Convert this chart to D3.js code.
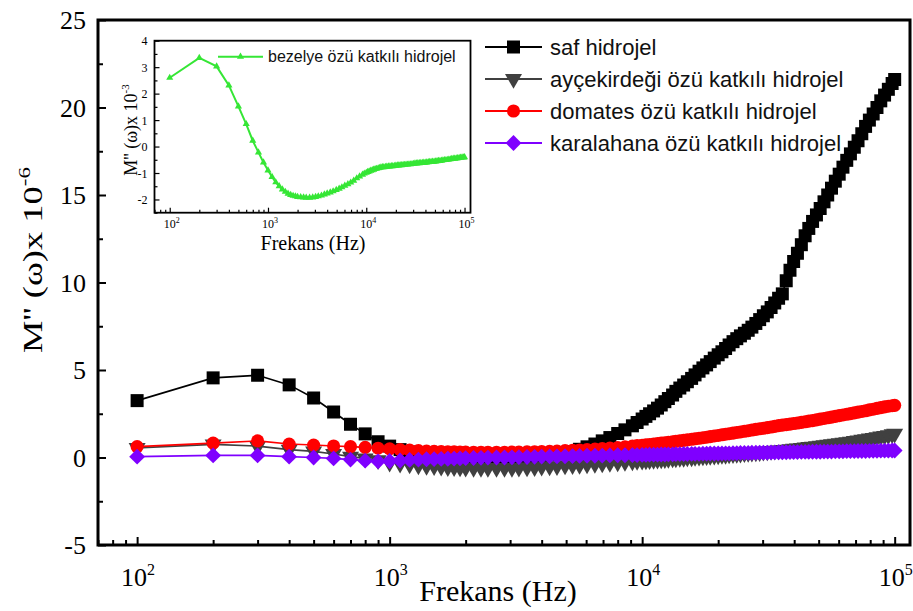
<!DOCTYPE html>
<html>
<head>
<meta charset="utf-8">
<script src="https://cdn.jsdelivr.net/npm/d3@7"></script>
<style>
  body { margin: 0; background: #fff; }
  svg { display: block; }
  .serif { font-family: "Liberation Serif", "Times New Roman", serif; }
  .sans { font-family: "Liberation Sans", Arial, sans-serif; }
</style>
</head>
<body>
<svg id="chart" width="913" height="611"></svg>
<script>
// Frequencies (Hz) at which M''(ω) is plotted
const freqs = [100, 200, 300, 400, 500, 600, 700, 800, 900, 1000,
  1100, 1200, 1300, 1400, 1500, 1600, 1700, 1800, 1900, 2000,
  2150, 2300, 2450, 2650, 2850, 3050, 3250, 3500, 3750, 4000,
  4300, 4600, 4950, 5300, 5650, 6050, 6500, 6950, 7450, 8000,
  8550, 9150, 9550,
  10000, 10350, 10700, 11100, 11500, 11900, 12300, 12700, 13200, 13600,
  14100, 14600, 15100, 15700, 16200, 16800, 17400, 18000, 18600, 19300,
  20000, 20700, 21400, 22100, 22900, 23700, 24500, 25400, 26300, 27200,
  28200, 29200, 30200, 31300, 32400, 33500, 34700, 35900, 37200, 38500,
  39800, 41200, 42700, 44200, 45700, 47300, 49000, 50700, 52500, 54300,
  56200, 58200, 60300, 62400, 64600, 66800, 69200, 71600, 74100, 76700,
  79400, 82200, 85100, 88100, 91200, 94400, 97700, 100000];

// M''(ω) x 10^-6
const safHidrojel = [3.25, 4.55, 4.7, 4.15, 3.4, 2.6, 1.9, 1.35, 0.9, 0.65,
  0.45, 0.32, 0.22, 0.14, 0.09, 0.05, 0.02, 0.0, -0.02, -0.04,
  -0.05, -0.05, -0.05, -0.04, -0.02, 0.0, 0.03, 0.06, 0.09, 0.12,
  0.16, 0.2, 0.25, 0.34, 0.47, 0.61, 0.77, 0.95, 1.14, 1.37,
  1.58, 1.81, 2.0,
  2.2, 2.35, 2.5, 2.66, 2.82, 3.0, 3.19, 3.37, 3.57, 3.78,
  3.97, 4.14, 4.33, 4.52, 4.72, 4.93, 5.12, 5.29, 5.48, 5.68,
  5.87, 6.04, 6.23, 6.43, 6.62, 6.79, 6.95, 7.1, 7.27, 7.45,
  7.66, 7.88, 8.1, 8.32, 8.57, 8.83, 9.1, 9.35, 10.1, 10.7,
  11.2, 11.67, 12.16, 12.67, 13.09, 13.49, 13.86, 14.23, 14.61, 15.0,
  15.39, 15.79, 16.19, 16.59, 16.98, 17.35, 17.73, 18.1, 18.5, 18.92,
  19.28, 19.63, 20.0, 20.38, 20.71, 21.04, 21.37, 21.6];

const aycekirdegi = [0.55, 0.75, 0.65, 0.45, 0.35, 0.2, 0.05, -0.05, -0.15, -0.3,
  -0.35, -0.4, -0.45, -0.48, -0.5, -0.53, -0.55, -0.56, -0.57, -0.58,
  -0.59, -0.59, -0.6, -0.6, -0.6, -0.59, -0.58, -0.57, -0.55, -0.53,
  -0.51, -0.49, -0.46, -0.44, -0.42, -0.39, -0.37, -0.34, -0.31, -0.28,
  -0.25, -0.22, -0.2,
  -0.18, -0.17, -0.15, -0.14, -0.12, -0.11, -0.09, -0.08, -0.06, -0.05,
  -0.03, -0.02, 0.0, 0.01, 0.03, 0.04, 0.06, 0.07, 0.09, 0.1,
  0.12, 0.14, 0.15, 0.17, 0.19, 0.2, 0.22, 0.24, 0.26, 0.28,
  0.29, 0.31, 0.33, 0.35, 0.37, 0.39, 0.41, 0.43, 0.45, 0.47,
  0.5, 0.52, 0.55, 0.57, 0.6, 0.62, 0.65, 0.68, 0.7, 0.73,
  0.76, 0.79, 0.82, 0.85, 0.88, 0.91, 0.95, 0.98, 1.02, 1.05,
  1.09, 1.12, 1.16, 1.2, 1.24, 1.28, 1.33, 1.36];

const domates = [0.62, 0.82, 0.95, 0.77, 0.71, 0.66, 0.62, 0.58, 0.53, 0.49,
  0.45, 0.42, 0.39, 0.37, 0.35, 0.34, 0.33, 0.32, 0.31, 0.31,
  0.3, 0.3, 0.3, 0.3, 0.3, 0.31, 0.31, 0.32, 0.33, 0.34,
  0.35, 0.37, 0.39, 0.41, 0.43, 0.45, 0.48, 0.51, 0.54, 0.57,
  0.61, 0.65, 0.68,
  0.7, 0.72, 0.74, 0.77, 0.79, 0.82, 0.84, 0.87, 0.9, 0.92,
  0.95, 0.98, 1.01, 1.04, 1.07, 1.1, 1.13, 1.16, 1.19, 1.23,
  1.26, 1.3, 1.33, 1.36, 1.39, 1.43, 1.46, 1.5, 1.53, 1.57,
  1.61, 1.64, 1.67, 1.71, 1.74, 1.78, 1.82, 1.85, 1.88, 1.91,
  1.94, 1.97, 2.01, 2.04, 2.08, 2.11, 2.15, 2.19, 2.23, 2.27,
  2.31, 2.35, 2.39, 2.43, 2.47, 2.51, 2.55, 2.59, 2.63, 2.67,
  2.72, 2.76, 2.81, 2.85, 2.89, 2.93, 2.96, 2.98];

const karalahana = [0.05, 0.12, 0.12, 0.05, 0.0, -0.05, -0.12, -0.18, -0.22, -0.2,
  -0.17, -0.14, -0.12, -0.1, -0.09, -0.08, -0.07, -0.06, -0.05, -0.04,
  -0.03, -0.02, -0.01, 0.0, 0.0, 0.01, 0.02, 0.03, 0.04, 0.05,
  0.06, 0.06, 0.07, 0.08, 0.09, 0.1, 0.1, 0.11, 0.12, 0.13,
  0.13, 0.14, 0.14,
  0.15, 0.15, 0.16, 0.16, 0.16, 0.17, 0.17, 0.18, 0.18, 0.19,
  0.19, 0.2, 0.2, 0.21, 0.21, 0.21, 0.22, 0.22, 0.23, 0.23,
  0.23, 0.24, 0.24, 0.24, 0.25, 0.25, 0.26, 0.26, 0.26, 0.27,
  0.27, 0.28, 0.28, 0.28, 0.29, 0.29, 0.3, 0.3, 0.3, 0.31,
  0.31, 0.31, 0.32, 0.32, 0.32, 0.33, 0.33, 0.33, 0.34, 0.34,
  0.34, 0.35, 0.35, 0.35, 0.36, 0.36, 0.36, 0.37, 0.37, 0.37,
  0.38, 0.38, 0.38, 0.39, 0.39, 0.39, 0.4, 0.4];

// Inset: M''(ω) x 10^-3
const bezelye = [2.6, 3.35, 3.03, 2.31, 1.52, 0.85, 0.22, -0.22, -0.6, -0.9,
  -1.15, -1.35, -1.5, -1.62, -1.71, -1.78, -1.83, -1.86, -1.88, -1.9,
  -1.91, -1.92, -1.93, -1.93, -1.92, -1.9, -1.88, -1.85, -1.81, -1.77,
  -1.73, -1.69, -1.64, -1.59, -1.54, -1.48, -1.42, -1.36, -1.29, -1.2,
  -1.13, -1.06, -1.02,
  -0.99, -0.96, -0.94, -0.91, -0.89, -0.87, -0.85, -0.84, -0.82, -0.81,
  -0.79, -0.78, -0.78, -0.77, -0.76, -0.75, -0.75, -0.74, -0.74, -0.73,
  -0.72, -0.71, -0.71, -0.7, -0.7, -0.69, -0.69, -0.68, -0.68, -0.67,
  -0.67, -0.66, -0.65, -0.64, -0.64, -0.63, -0.63, -0.62, -0.62, -0.61,
  -0.61, -0.6, -0.59, -0.58, -0.58, -0.57, -0.57, -0.56, -0.55, -0.54,
  -0.54, -0.53, -0.52, -0.51, -0.51, -0.5, -0.49, -0.48, -0.47, -0.46,
  -0.46, -0.45, -0.44, -0.43, -0.42, -0.41, -0.41, -0.4];

const seriesNames = ["saf hidrojel", "ayçekirdeği özü katkılı hidrojel",
  "domates özü katkılı hidrojel", "karalahana özü katkılı hidrojel"];
const insetName = "bezelye özü katkılı hidrojel";

const yTicks = [-5, 0, 5, 10, 15, 20, 25];
const yMinorTicks = [-2.5, 2.5, 7.5, 12.5, 17.5, 22.5];
const xDecades = [100, 1000, 10000, 100000];
const insetYTicks = [-2, -1, 0, 1, 2, 3, 4];
const insetYMinorTicks = [-2.5, -1.5, -0.5, 0.5, 1.5, 2.5, 3.5];

const svg = d3.select("#chart");
const freqDomain = [70, 115000];
const plainNum = d => String(d);

// ---------- main plot ----------
const P = { left: 98, right: 910, top: 20, bottom: 545 };
const x = d3.scaleLog().domain(freqDomain).range([P.left, P.right]);
const y = d3.scaleLinear().domain([-5, 25]).range([P.bottom, P.top]);
const xMinor = x.ticks().filter(t => !xDecades.includes(t));

const sym = {
  square: d3.symbol().type(d3.symbolSquare).size(169),
  triangle: d3.symbol().type(d3.symbolTriangle).size(125),
  circle: d3.symbol().type(d3.symbolCircle).size(135),
  diamond: d3.symbol().type(d3.symbolSquare).size(125)
};

const series = [
  { name: seriesNames[0], values: safHidrojel, color: "#000000", shape: "square", rot: 0 },
  { name: seriesNames[1], values: aycekirdegi, color: "#404040", shape: "triangle", rot: 180 },
  { name: seriesNames[2], values: domates, color: "#ff0000", shape: "circle", rot: 0 },
  { name: seriesNames[3], values: karalahana, color: "#7f00ff", shape: "diamond", rot: 45 }
];

function supLabel(sel, base, exp, expScale, dy) {
  sel.text(null);
  sel.append("tspan").text(base);
  sel.append("tspan").attr("dy", dy).attr("font-size", expScale).text(exp);
}

// axes: ticks point inward, frame drawn separately
const gx = svg.append("g").attr("transform", `translate(0,${P.bottom})`)
  .call(d3.axisBottom(x).tickValues(xDecades).tickSizeInner(-8).tickSizeOuter(0).tickFormat(""));
const gxm = svg.append("g").attr("transform", `translate(0,${P.bottom})`)
  .call(d3.axisBottom(x).tickValues(xMinor).tickSizeInner(-5).tickSizeOuter(0).tickFormat(""));
const gy = svg.append("g").attr("transform", `translate(${P.left},0)`)
  .call(d3.axisLeft(y).tickValues(yTicks).tickSizeInner(-8).tickSizeOuter(0).tickPadding(12).tickFormat(plainNum));
const gym = svg.append("g").attr("transform", `translate(${P.left},0)`)
  .call(d3.axisLeft(y).tickValues(yMinorTicks).tickSizeInner(-5).tickSizeOuter(0).tickFormat(""));
[gx, gxm, gy, gym].forEach(g => {
  g.select(".domain").remove();
  g.selectAll(".tick line").attr("stroke", "#000").attr("stroke-width", 2);
});
gy.selectAll(".tick text").attr("class", "serif").attr("font-size", 26).attr("fill", "#000")
  .attr("dy", "0.34em");

// x tick labels as powers of ten
svg.append("g").selectAll("text").data(xDecades).join("text")
  .attr("class", "serif").attr("font-size", 26).attr("text-anchor", "middle")
  .attr("x", d => x(d) + 1).attr("y", 586)
  .each(function (d) { supLabel(d3.select(this), "10", String(Math.round(Math.log10(d))), 16, -11); });

// data
const line = d3.line().x(d => x(d.f)).y(d => y(d.v));
series.forEach(s => {
  const pts = freqs.map((f, i) => ({ f, v: s.values[i] }));
  const g = svg.append("g");
  g.append("path").datum(pts).attr("d", line).attr("fill", "none")
    .attr("stroke", s.color).attr("stroke-width", 1.6);
  g.selectAll("path.m").data(pts).join("path").attr("class", "m")
    .attr("d", sym[s.shape]())
    .attr("transform", d => `translate(${x(d.f)},${y(d.v)}) rotate(${s.rot})`)
    .attr("fill", s.color);
});

// frame
svg.append("rect").attr("x", P.left).attr("y", P.top)
  .attr("width", P.right - P.left).attr("height", P.bottom - P.top)
  .attr("fill", "none").attr("stroke", "#000").attr("stroke-width", 3);

// axis titles
svg.append("text").attr("class", "serif").attr("font-size", 30).attr("text-anchor", "middle")
  .attr("x", 498).attr("y", 601).text("Frekans (Hz)");
const yt = svg.append("text").attr("class", "serif").attr("font-size", 27).attr("text-anchor", "middle")
  .attr("transform", "translate(42,260) rotate(-90) scale(1.35,1)");
supLabel(yt, "M'' (\u03c9)x 10", "-6", 17, -12);

// legend
const legY = [47, 79, 111, 143];
const leg = svg.append("g");
series.forEach((s, i) => {
  const ly = legY[i];
  leg.append("line").attr("x1", 485).attr("x2", 542).attr("y1", ly).attr("y2", ly)
    .attr("stroke", s.color).attr("stroke-width", 2);
  leg.append("path").attr("d", sym[s.shape]())
    .attr("transform", `translate(513.5,${ly}) rotate(${s.rot})`).attr("fill", s.color);
  leg.append("text").attr("class", "sans").attr("font-size", 22).attr("fill", "#111")
    .attr("x", 550).attr("y", ly).attr("dy", "0.35em").text(s.name);
});

// ---------- inset ----------
const I = { left: 154.5, right: 470.5, top: 40.7, bottom: 212.7 };
const xi = d3.scaleLog().domain(freqDomain).range([I.left, I.right]);
const yi = d3.scaleLinear().domain([-2.5, 4]).range([I.bottom, I.top]);
const xiMinor = xi.ticks().filter(t => !xDecades.includes(t));
const ins = svg.append("g");

const gix = ins.append("g").attr("transform", `translate(0,${I.bottom})`)
  .call(d3.axisBottom(xi).tickValues(xDecades).tickSizeInner(-5).tickSizeOuter(0).tickFormat(""));
const gixm = ins.append("g").attr("transform", `translate(0,${I.bottom})`)
  .call(d3.axisBottom(xi).tickValues(xiMinor).tickSizeInner(-3).tickSizeOuter(0).tickFormat(""));
const giy = ins.append("g").attr("transform", `translate(${I.left},0)`)
  .call(d3.axisLeft(yi).tickValues(insetYTicks).tickSizeInner(-5).tickSizeOuter(0).tickPadding(7).tickFormat(plainNum));
const giym = ins.append("g").attr("transform", `translate(${I.left},0)`)
  .call(d3.axisLeft(yi).tickValues(insetYMinorTicks).tickSizeInner(-3).tickSizeOuter(0).tickFormat(""));
[gix, gixm, giy, giym].forEach(g => {
  g.select(".domain").remove();
  g.selectAll(".tick line").attr("stroke", "#000").attr("stroke-width", 1.2);
});
giy.selectAll(".tick text").attr("class", "serif").attr("font-size", 12).attr("fill", "#000")
  .attr("dy", "0.34em");

ins.append("g").selectAll("text").data(xDecades).join("text")
  .attr("class", "serif").attr("font-size", 12).attr("text-anchor", "middle")
  .attr("x", d => xi(d) + 2).attr("y", 228)
  .each(function (d) { supLabel(d3.select(this), "10", String(Math.round(Math.log10(d))), 8, -5); });

const bezPts = freqs.map((f, i) => ({ f, v: bezelye[i] }));
const lineI = d3.line().x(d => xi(d.f)).y(d => yi(d.v));
const green = "#35e635";
const triSmall = d3.symbol().type(d3.symbolTriangle).size(22);
ins.append("path").datum(bezPts).attr("d", lineI).attr("fill", "none")
  .attr("stroke", green).attr("stroke-width", 2);
ins.selectAll("path.t").data(bezPts).join("path").attr("class", "t")
  .attr("d", triSmall()).attr("fill", green)
  .attr("transform", d => `translate(${xi(d.f)},${yi(d.v)})`);

ins.append("rect").attr("x", I.left).attr("y", I.top)
  .attr("width", I.right - I.left).attr("height", I.bottom - I.top)
  .attr("fill", "none").attr("stroke", "#000").attr("stroke-width", 1.8);

ins.append("text").attr("class", "serif").attr("font-size", 20).attr("text-anchor", "middle")
  .attr("x", 313).attr("y", 250).text("Frekans (Hz)");
const yti = ins.append("text").attr("class", "serif").attr("font-size", 18).attr("text-anchor", "middle")
  .attr("transform", "translate(137,130) rotate(-90)");
supLabel(yti, "M'' (\u03c9)x 10", "-3", 11, -8);

// inset legend
ins.append("line").attr("x1", 218).attr("x2", 263).attr("y1", 56.7).attr("y2", 56.7)
  .attr("stroke", green).attr("stroke-width", 2);
ins.append("path").attr("d", triSmall()).attr("fill", green).attr("transform", "translate(240.5,56.7)");
ins.append("text").attr("class", "sans").attr("font-size", 16).attr("fill", "#111")
  .attr("x", 268).attr("y", 56.7).attr("dy", "0.35em").text(insetName);
</script>
</body>
</html>
